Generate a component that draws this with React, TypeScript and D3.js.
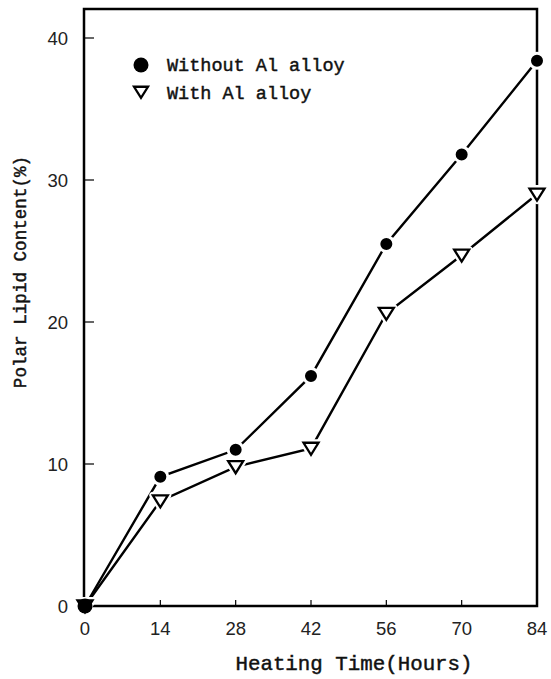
import React from "react";
import * as d3 from "d3";

const hours = [0, 14, 28, 42, 56, 70, 84];
const withoutAl = [0, 9.1, 11.0, 16.2, 25.5, 31.8, 38.4];
const withAl = [0, 7.4, 9.8, 11.1, 20.6, 24.7, 29.0];
const xTicks = [0, 14, 28, 42, 56, 70, 84];
const yTicks = [0, 10, 20, 30, 40];
const seriesNames = ["Without Al alloy", "With Al alloy"];

const W = 551, H = 679;
const L = 84, R = 537, T = 9, B = 606;

export default function App() {
  const x = d3.scaleLinear().domain([0, 84]).range([85, R]);
  const y = d3.scaleLinear().domain([0, 40]).range([B, 38]);
  const line = d3.line<number>().x((_, i) => x(hours[i])).y((d) => y(d));
  const mono = "'Liberation Mono', 'DejaVu Sans Mono', monospace";
  const sans = "'Liberation Sans', Arial, sans-serif";
  const tri = (cx: number, cy: number, s = 7.5) =>
    `M${cx - s},${cy - s * 0.75}L${cx + s},${cy - s * 0.75}L${cx},${cy + s * 0.85}Z`;
  const bold = { stroke: "#111", strokeWidth: 0.45 };
  return (
    <svg width={W} height={H} style={{ position: "absolute", left: 0, top: 0, background: "#fff" }}>
      {/* data lines */}
      <path d={line(withoutAl) || ""} fill="none" stroke="#000" strokeWidth={2.4} />
      <path d={line(withAl) || ""} fill="none" stroke="#000" strokeWidth={2.4} />
      {/* frame */}
      <rect x={L} y={T} width={R - L} height={B - T} fill="none" stroke="#000" strokeWidth={2.5} />
      {/* ticks */}
      {yTicks.map((t) => (
        <g key={"y" + t}>
          <line x1={L} x2={L + 10} y1={y(t)} y2={y(t)} stroke="#000" strokeWidth={1.2} />
          <text x={68} y={y(t) + 6.5} textAnchor="end" fontFamily={sans} fontSize={18.5} fill="#222">{t}</text>
        </g>
      ))}
      {xTicks.map((t) => (
        <g key={"x" + t}>
          {t !== 0 && t !== 84 && (
            <line x1={x(t)} x2={x(t)} y1={B} y2={B - 6} stroke="#000" strokeWidth={1.2} />
          )}
          <text x={x(t)} y={635} textAnchor="middle" fontFamily={sans} fontSize={18.5} fill="#222">{t}</text>
        </g>
      ))}
      {/* markers */}
      {withAl.map((v, i) => (
        <g key={"t" + i}>
          <path d={tri(x(hours[i]), y(v))} fill="#fff" stroke="#fff" strokeWidth={7} strokeLinejoin="round" />
          <path d={tri(x(hours[i]), y(v))} fill="#fff" stroke="#000" strokeWidth={2.3} />
        </g>
      ))}
      {withoutAl.map((v, i) => (
        <g key={"c" + i}>
          <circle cx={x(hours[i])} cy={y(v)} r={7.5} fill="#000" stroke="#fff" strokeWidth={i === 0 ? 0 : 3} />
        </g>
      ))}
      {/* legend */}
      <circle cx={141} cy={65} r={7.5} fill="#000" />
      <path d={tri(141, 92, 7)} fill="#fff" stroke="#000" strokeWidth={2.3} />
      <text x={167} y={71} fontFamily={mono} fontSize={18.5} fill="#111" {...bold}>{seriesNames[0]}</text>
      <text x={167} y={99} fontFamily={mono} fontSize={18.5} fill="#111" {...bold}>{seriesNames[1]}</text>
      {/* axis titles */}
      <text x={354} y={670} textAnchor="middle" fontFamily={mono} fontSize={20.8} fill="#111" {...bold}>Heating Time(Hours)</text>
      <text transform={`translate(26,272) rotate(-90)`} textAnchor="middle" fontFamily={mono} fontSize={17.6} fill="#111" {...bold}>Polar Lipid Content(%)</text>
    </svg>
  );
}
